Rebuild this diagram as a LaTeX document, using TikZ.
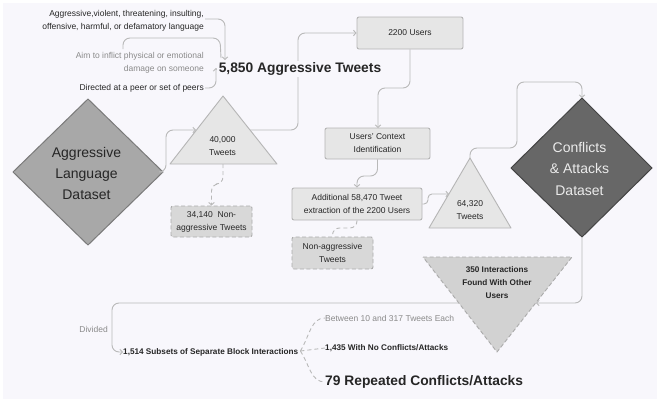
\documentclass[tikz,border=0pt]{standalone}
\usepackage{fontspec}
\setmainfont{Liberation Sans}
\usetikzlibrary{arrows.meta}
\definecolor{bg}{HTML}{F8F7FC}
\definecolor{lineC}{HTML}{B9B9B9}
\definecolor{boxF}{HTML}{E6E6E6}
\definecolor{boxD}{HTML}{B5B5B5}
\definecolor{dashF}{HTML}{D8D8D8}
\definecolor{dashD}{HTML}{ABABAB}
\definecolor{txt}{HTML}{262626}
\definecolor{gtxt}{HTML}{8A8A8A}
\definecolor{dlF}{HTML}{A8A8A8}
\definecolor{dlD}{HTML}{7A7A7A}
\definecolor{drF}{HTML}{676767}
\definecolor{drD}{HTML}{444444}
\definecolor{invF}{HTML}{D2D2D2}
\tikzset{
  conn/.style={draw=lineC, line width=0.9pt, rounded corners=7pt, -{Straight Barb[length=2.5pt,width=5.5pt]}},
  plainconn/.style={draw=lineC, line width=0.9pt, rounded corners=7pt},
  dconn/.style={conn, dash pattern=on 4pt off 3pt},
  dplain/.style={plainconn, dash pattern=on 4pt off 3pt},
  smalltxt/.style={font=\fontsize{8.5}{13}\selectfont, text=txt, inner sep=0pt, align=center},
  smallbold/.style={font=\fontsize{8.2}{13}\selectfont\bfseries, text=txt, inner sep=0pt, align=center},
  graytxt/.style={smalltxt, text=gtxt},
  bigtxt/.style={font=\fontsize{14}{21}\selectfont, inner sep=0pt, align=center},
  headtxt/.style={font=\fontsize{13.8}{16}\selectfont\bfseries, text=txt, inner sep=0pt},
  boxN/.style={draw=boxD, fill=boxF, rounded corners=2pt, line width=0.9pt, smalltxt},
  dboxN/.style={draw=dashD, fill=dashF, rounded corners=2pt, line width=0.9pt, dash pattern=on 4pt off 2.5pt, smalltxt},
  tri/.style={draw=boxD, fill=boxF, line width=0.9pt, line join=round},
}
\begin{document}
\begin{tikzpicture}[x=1pt,y=-1pt]
\useasboundingbox (0,0) rectangle (657,399);
\fill[white] (0,0) rectangle (657,399);
\fill[bg] (3,3) rectangle (657,399);

% ---- top texts
\node[smalltxt, anchor=east, align=right] (t1) at (204,20.5) {Aggressive,violent, threatening, insulting,\\offensive, harmful, or defamatory language};
\node[graytxt, anchor=east, align=right] (t2) at (204,63) {Aim to inflict physical or emotional\\damage on someone};
\node[smalltxt, anchor=east, align=right] (t3) at (204,88) {Directed at a peer or set of peers};
\coordinate (t1o) at (205,19);
\coordinate (t2o) at (123,49);
\coordinate (t3o) at (205,88);
\coordinate (mIn1) at (225,60);
\coordinate (mIn2) at (216,68);

% ---- left diamond
\coordinate (dlT) at (88,99);
\coordinate (dlR) at (163,172);
\coordinate (dlB) at (88,245);
\coordinate (dlL) at (13,172);
\filldraw[fill=dlF, draw=dlD, line width=1pt, line join=round] (dlT)--(dlR)--(dlB)--(dlL)--cycle;
\node[bigtxt, text=txt] (dl) at (86.5,173) {Aggressive\\Language\\Dataset};

% ---- triangle 40,000
\coordinate (t1A) at (223,96);
\coordinate (t1BL) at (170,164);
\coordinate (t1BR) at (277,164);
\coordinate (t1Lin) at (196,130);
\coordinate (t1Rout) at (250,130);
\coordinate (t1Bot) at (223,164);
\filldraw[tri] (t1A)--(t1BR)--(t1BL)--cycle;
\node[smalltxt] (tw1) at (222.5,146.5) {40,000\\Tweets};

% ---- 34,140 box
\node[dboxN, minimum width=81pt, minimum height=31pt] (n1) at (211.5,221.5) {34,140\ \ Non-\\aggressive Tweets};

% ---- boxes
\node[boxN, minimum width=106pt, minimum height=32pt] (u) at (410,33) {2200 Users};
\node[boxN, minimum width=105pt, minimum height=31pt] (c) at (377.5,143.5) {Users' Context\\Identification};
\node[boxN, minimum width=130pt, minimum height=32pt] (a) at (357,204) {Additional 58,470 Tweet\\extraction of the 2200 Users};
\node[dboxN, minimum width=81pt, minimum height=32pt] (n2) at (332.5,253) {Non-aggressive\\Tweets};

% ---- triangle 64,320
\coordinate (t2A) at (470,158);
\coordinate (t2BL) at (429,228);
\coordinate (t2BR) at (511,228);
\coordinate (t2Lin) at (449,194);
\filldraw[tri] (t2A)--(t2BR)--(t2BL)--cycle;
\node[smalltxt] (tw2) at (470,210.5) {64,320\\Tweets};

% ---- right diamond
\coordinate (drT) at (582,98);
\coordinate (drR) at (652,168);
\coordinate (drB) at (582,237);
\coordinate (drL) at (511,168);
\filldraw[fill=drF, draw=drD, line width=1pt, line join=round] (drT)--(drR)--(drB)--(drL)--cycle;
\node[font=\fontsize{14}{21.5}\selectfont, inner sep=0pt, align=center, text=white!92!black] (dr) at (579.5,168.5) {Conflicts\\\& Attacks\\Dataset};

% ---- inverted triangle
\coordinate (iTL) at (423,257);
\coordinate (iTR) at (572,257);
\coordinate (iB) at (497,352);
\coordinate (iRin) at (536,303);
\coordinate (iLout) at (459,303);
\filldraw[fill=invF, draw=dashD, line width=0.9pt, dash pattern=on 4pt off 2.5pt, line join=round] (iTL)--(iTR)--(iB)--cycle;
\node[smallbold] (inter) at (497,283) {350 Interactions\\Found With Other\\Users};

% ---- bottom texts
\node[smallbold, anchor=west] (s) at (123,352) {1,514 Subsets of Separate Block Interactions};
\node[graytxt, anchor=east] (div) at (108,329) {Divided};
\node[graytxt, anchor=west] (b) at (325,318) {Between 10 and 317 Tweets Each};
\node[smallbold, anchor=west] (nc) at (325,348) {1,435 With No Conflicts/Attacks};
\node[headtxt, anchor=west] (r) at (325,382) {79 Repeated Conflicts/Attacks};

% ---- connectors
\draw[conn] (t1o) -- (225,19) -- (mIn1);
\draw[plainconn] (t2o) -- (123,38) -- (220,38) -- (221,58);
\draw[conn] (t3o) -- (216,88) -- (mIn2);

\draw[conn] (dlR) -- (166,172) -- (166,130) -- (t1Lin);
\draw[conn] (t1Rout) -- (298,130) -- (298,33) -- (u.west);
\draw[dconn] (t1Bot) -- (223,184) -- (211.5,184) -- (n1.north);
\draw[conn] (u.south) -- (410,88) -- (378,88) -- (378,128);
\draw[conn] (c.south) -- (377.5,176) -- (357,176) -- (a.north);
\draw[dplain] (a.south) -- (357,228) -- (332.5,228) -- (n2.north);
\draw[conn, rounded corners=4pt] (a.east) -- (428,204) -- (428,194) -- (t2Lin);
\draw[conn] (t2A) -- (470,148) -- (517,148) -- (517,82) -- (582,82) -- (drT);
\draw[conn] (drB) -- (582,303) -- (iRin);
\draw[conn] (iLout) -- (112,303) -- (112,352) -- (s.west);
\draw[dplain, rounded corners=0pt] (s.east) ++(2,-1) .. controls (310,335) and (311,318) .. (b.west);
\draw[dplain, rounded corners=0pt] (s.east) ++(2,-1) -- (nc.west);
\draw[dplain, rounded corners=0pt] (s.east) ++(2,-1) .. controls (310,366) and (311,382) .. (r.west);

% ---- main heading on top
\node[headtxt, fill=bg, inner sep=1.5pt] (m) at (300,69) {5,850 Aggressive Tweets};
\end{tikzpicture}
\end{document}
